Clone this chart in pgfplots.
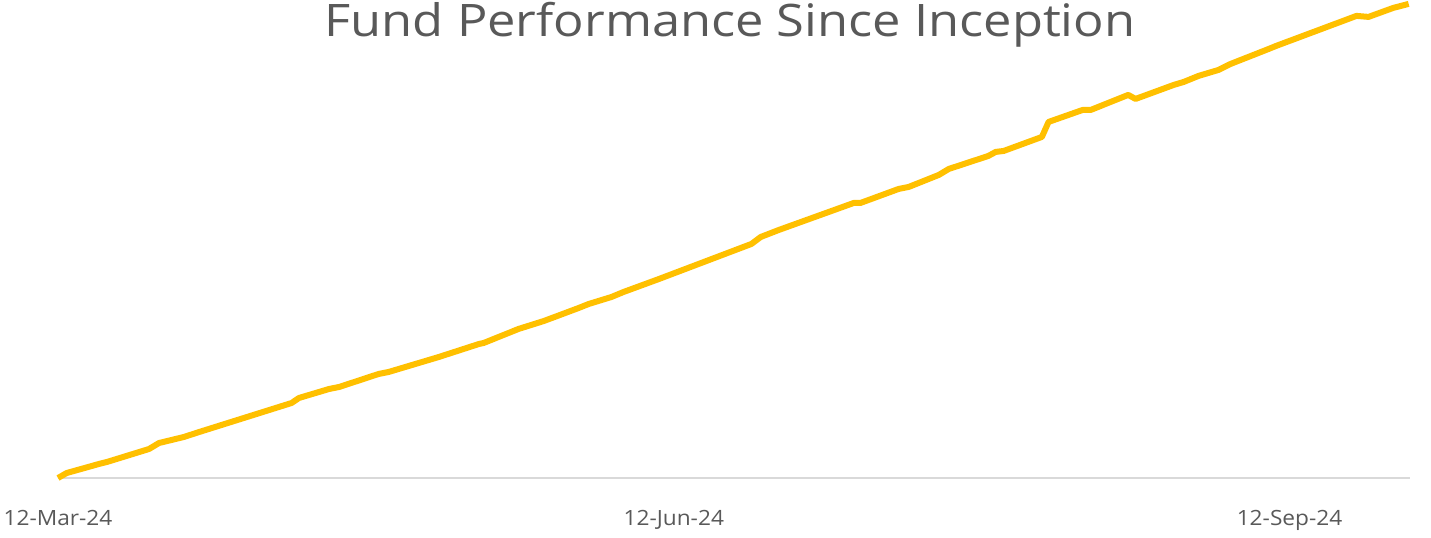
\documentclass[border=0pt]{standalone}
\usepackage{pgfplots}
\pgfplotsset{compat=1.18}
\usepackage{fontspec}
\setmainfont{Open Sans}
\newfontfamily\titlefont[FakeStretch=1.13]{Open Sans}
\newfontfamily\tickfont[FakeStretch=1.08]{Open Sans}
\definecolor{gold}{RGB}{255,192,0}
\definecolor{txt}{RGB}{89,89,89}
\definecolor{base}{RGB}{217,217,217}
\begin{document}
\begin{tikzpicture}
\useasboundingbox (-29pt,-29.5pt) rectangle (686.5pt,239pt);
\begin{axis}[
  at={(0,0)}, anchor=south west,
  scale only axis, width=676pt, height=237pt,
  xmin=0, xmax=202, ymin=0, ymax=47.4,
  clip=false,
  axis y line=none,
  axis x line*=bottom,
  x axis line style={draw=base, line width=1pt, -},
  xtick={0,92,184},
  xticklabels={12-Mar-24,12-Jun-24,12-Sep-24},
  xtick style={draw=none},
  xticklabel style={font=\tickfont\fontsize{10.5}{13}\selectfont, text=txt, anchor=base, yshift=-23.5pt, inner sep=0pt},
  ytick=\empty,
]
\addplot[gold, line width=3pt, line join=round, mark=none] coordinates {
(0,0) (1.3,0.5) (6.1,1.4) (7.3,1.6) (13.6,2.9) (15.1,3.5) (18.8,4.1) (21.1,4.6)
(34.9,7.5) (36.0,8.0) (40.5,8.9) (42.0,9.1) (47.9,10.4) (49.4,10.6) (56.9,12.1)
(62.9,13.4) (63.6,13.5) (68.8,14.9) (72.6,15.7) (77.8,17.0) (79.3,17.4) (82.7,18.1)
(84.5,18.6) (89.8,19.9) (103.6,23.4) (105.0,24.1) (107.7,24.8) (118.9,27.5)
(119.9,27.5) (125.6,28.9) (127.1,29.1) (131.6,30.3) (133.1,30.9) (139.0,32.2)
(140.1,32.6) (141.3,32.7) (147.0,34.1) (148.0,35.6) (153.1,36.8) (154.3,36.8)
(159.9,38.3) (161.0,37.9) (166.7,39.3) (168.2,39.6) (170.4,40.2) (173.4,40.8)
(175.2,41.4) (180.9,42.9) (182.0,43.2) (188.8,44.9) (194.0,46.2) (195.8,46.1)
(199.5,47.0) (201.8,47.4)
};
\node[anchor=base, text=txt, font=\titlefont\fontsize{22.4}{27}\selectfont, inner sep=0pt]
  at ([xshift=-2pt, yshift=-16.5pt]rel axis cs:0.5,1) {Fund Performance Since Inception};
\end{axis}
\end{tikzpicture}
\end{document}
